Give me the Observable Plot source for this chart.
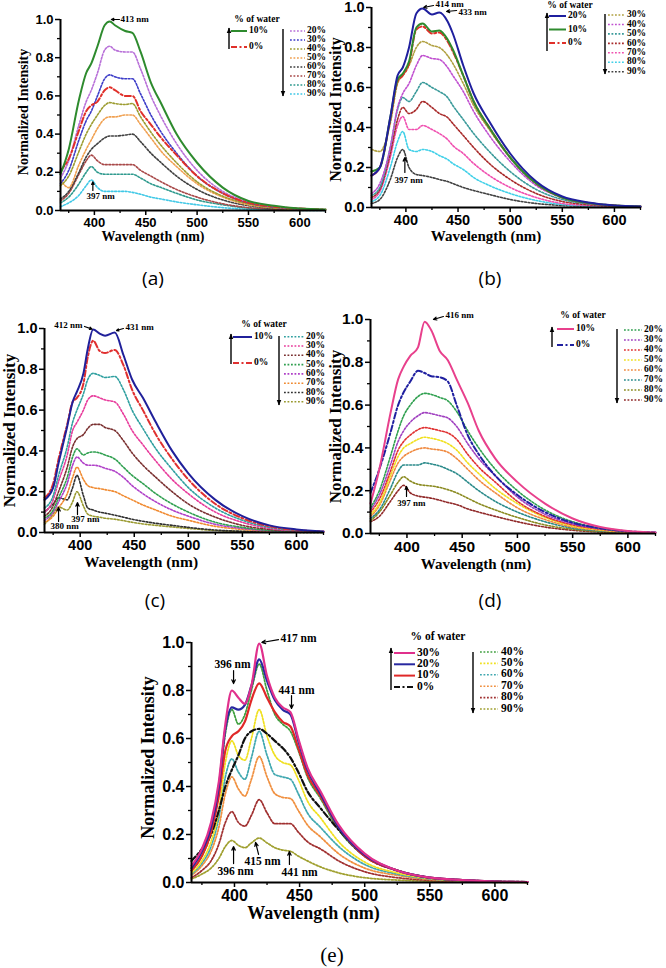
<!DOCTYPE html>
<html><head><meta charset="utf-8">
<script src="https://cdn.jsdelivr.net/npm/d3@7"></script>
<script src="https://cdn.jsdelivr.net/npm/@observablehq/plot@0.6"></script>
<style>
html,body{margin:0;padding:0;background:#fff;}
#root{position:relative;width:666px;height:968px;overflow:hidden;background:#fff;}
#root svg{position:absolute;}
</style></head><body><div id="root"></div>
<script>
// ---------------- DATA ----------------
const xMajor = [400, 450, 500, 550, 600];
const xMinor = [375, 425, 475, 525, 575, 625];
const yMajor = [0, 0.2, 0.4, 0.6, 0.8, 1.0];
const yMinor = [0.1, 0.3, 0.5, 0.7, 0.9];

// Panel (a)
const wlA = [367,375,385,392,397,403,410,415,420,430,437,445,455,465,480,500,525,550,575,600,625];
const namesA = ["10%","0%","20%","30%","40%","50%","60%","70%","80%","90%"];
const valsA = [
 [0.19,0.32,0.58,0.72,0.77,0.86,0.97,0.99,0.97,0.94,0.93,0.83,0.67,0.56,0.40,0.25,0.12,0.05,0.025,0.01,0.005],
 [0.21,0.27,0.42,0.52,0.55,0.57,0.63,0.645,0.63,0.60,0.60,0.52,0.45,0.38,0.29,0.18,0.09,0.04,0.02,0.01,0.005],
 [0.17,0.26,0.45,0.57,0.63,0.72,0.84,0.86,0.84,0.83,0.83,0.74,0.60,0.49,0.35,0.21,0.10,0.045,0.02,0.01,0.004],
 [0.14,0.21,0.37,0.47,0.52,0.60,0.69,0.71,0.70,0.69,0.69,0.61,0.50,0.41,0.30,0.18,0.09,0.04,0.018,0.008,0.003],
 [0.13,0.18,0.31,0.40,0.45,0.50,0.55,0.565,0.56,0.555,0.56,0.49,0.41,0.34,0.25,0.15,0.075,0.035,0.015,0.007,0.003],
 [0.16,0.12,0.24,0.32,0.37,0.43,0.48,0.49,0.49,0.50,0.50,0.45,0.38,0.31,0.23,0.14,0.07,0.03,0.014,0.006,0.003],
 [0.06,0.10,0.20,0.28,0.32,0.35,0.38,0.39,0.39,0.395,0.40,0.36,0.30,0.25,0.18,0.11,0.055,0.025,0.011,0.005,0.002],
 [0.05,0.09,0.19,0.26,0.29,0.26,0.24,0.24,0.24,0.24,0.24,0.21,0.18,0.15,0.11,0.07,0.035,0.015,0.007,0.003,0.001],
 [0.04,0.07,0.14,0.20,0.23,0.20,0.19,0.19,0.19,0.19,0.19,0.17,0.14,0.12,0.09,0.055,0.03,0.012,0.006,0.002,0.001],
 [0.02,0.04,0.08,0.13,0.16,0.12,0.10,0.10,0.10,0.10,0.095,0.085,0.07,0.06,0.045,0.03,0.015,0.006,0.003,0.001,0.0]
];
const colorsA = ["#2e8b2e","#e0302a","#b870d8","#3c3cc8","#9c9c30","#f0a050","#404040","#a84848","#2f9a8e","#40c8e6"];
const kindsA = ["solid","dashdot","dot","dot","dot","dot","dot","dot","dot","dot"];

// Panel (b)
const wlB = [367,375,385,392,397,403,410,416,425,432,440,445,455,465,480,500,525,550,575,600,625];
const namesB = ["20%","10%","0%","30%","40%","50%","60%","70%","80%","90%"];
const valsB = [
 [0.16,0.20,0.45,0.66,0.70,0.80,0.97,0.995,0.965,0.975,0.93,0.87,0.71,0.57,0.43,0.27,0.13,0.055,0.025,0.01,0.005],
 [0.18,0.20,0.45,0.64,0.67,0.73,0.90,0.92,0.88,0.885,0.84,0.79,0.66,0.53,0.40,0.25,0.12,0.05,0.022,0.01,0.005],
 [0.16,0.20,0.44,0.63,0.66,0.72,0.89,0.905,0.87,0.875,0.83,0.78,0.66,0.53,0.40,0.25,0.12,0.05,0.022,0.01,0.005],
 [0.29,0.28,0.42,0.62,0.66,0.71,0.80,0.83,0.81,0.80,0.76,0.72,0.62,0.51,0.39,0.25,0.12,0.05,0.022,0.01,0.005],
 [0.07,0.12,0.30,0.50,0.57,0.62,0.71,0.76,0.745,0.74,0.70,0.66,0.58,0.48,0.36,0.23,0.11,0.05,0.02,0.01,0.004],
 [0.06,0.10,0.30,0.49,0.55,0.53,0.58,0.625,0.60,0.58,0.55,0.51,0.44,0.37,0.28,0.18,0.09,0.04,0.018,0.008,0.004],
 [0.05,0.09,0.27,0.44,0.50,0.47,0.49,0.53,0.50,0.47,0.45,0.42,0.36,0.30,0.22,0.14,0.07,0.03,0.014,0.006,0.003],
 [0.04,0.08,0.25,0.41,0.455,0.39,0.39,0.41,0.39,0.37,0.34,0.31,0.27,0.22,0.16,0.10,0.05,0.02,0.01,0.005,0.002],
 [0.03,0.06,0.20,0.33,0.38,0.29,0.28,0.29,0.28,0.26,0.24,0.22,0.19,0.15,0.11,0.07,0.035,0.015,0.007,0.003,0.001],
 [0.02,0.04,0.14,0.25,0.29,0.20,0.165,0.16,0.15,0.14,0.13,0.12,0.10,0.085,0.065,0.04,0.02,0.01,0.005,0.002,0.001]
];
const colorsB = ["#1f1f9e","#2e8b2e","#e0302a","#b0a040","#c050d0","#3a9a9a","#a82a2a","#f050b0","#40d0e8","#404040"];
const kindsB = ["solid","solid","dashdot","dot","dot","dot","dot","dot","dot","dot"];

// Panel (c)
const wlC = [367,375,380,388,393,397,403,407,412,418,423,432,440,448,458,470,485,500,525,550,575,600,625];
const namesC = ["10%","0%","20%","30%","40%","50%","60%","70%","80%","90%"];
const valsC = [
 [0.16,0.22,0.34,0.52,0.64,0.69,0.78,0.90,0.995,0.975,0.965,0.98,0.87,0.75,0.66,0.54,0.40,0.29,0.16,0.08,0.035,0.015,0.005],
 [0.17,0.24,0.36,0.53,0.64,0.66,0.73,0.86,0.94,0.89,0.88,0.895,0.82,0.70,0.60,0.48,0.36,0.26,0.14,0.07,0.03,0.012,0.005],
 [0.12,0.18,0.28,0.42,0.54,0.60,0.68,0.75,0.78,0.77,0.76,0.765,0.70,0.60,0.51,0.41,0.31,0.22,0.12,0.06,0.025,0.01,0.004],
 [0.10,0.16,0.25,0.38,0.50,0.54,0.60,0.65,0.67,0.66,0.65,0.64,0.58,0.50,0.43,0.35,0.26,0.19,0.10,0.05,0.02,0.008,0.003],
 [0.08,0.13,0.20,0.32,0.42,0.46,0.48,0.51,0.53,0.53,0.515,0.50,0.45,0.39,0.33,0.27,0.20,0.14,0.075,0.035,0.015,0.006,0.002],
 [0.07,0.11,0.17,0.27,0.37,0.41,0.38,0.39,0.395,0.39,0.38,0.36,0.32,0.28,0.24,0.19,0.14,0.10,0.05,0.025,0.01,0.004,0.002],
 [0.06,0.10,0.15,0.24,0.33,0.37,0.34,0.33,0.33,0.325,0.315,0.30,0.27,0.23,0.19,0.15,0.11,0.08,0.04,0.02,0.008,0.003,0.001],
 [0.05,0.08,0.12,0.19,0.27,0.32,0.26,0.23,0.22,0.215,0.21,0.20,0.18,0.16,0.135,0.11,0.08,0.06,0.03,0.015,0.006,0.002,0.001],
 [0.10,0.14,0.17,0.16,0.22,0.28,0.18,0.12,0.11,0.10,0.095,0.085,0.075,0.065,0.055,0.045,0.035,0.025,0.012,0.006,0.003,0.001,0],
 [0.04,0.09,0.125,0.11,0.15,0.20,0.13,0.09,0.08,0.075,0.07,0.065,0.058,0.05,0.042,0.035,0.027,0.02,0.01,0.005,0.002,0.001,0]
];
const colorsC = ["#20209a","#e03030","#30a0a0","#e83c9c","#7a3030","#30a050","#b040c8","#f08a30","#303030","#9a9a30"];
const kindsC = ["solid","dashdot","dot","dot","dot","dot","dot","dot","dot","dot"];

// Panel (d)
const wlD = [367,375,385,392,397,403,410,416,422,430,437,445,455,465,480,500,525,550,575,600,625];
const namesD = ["10%","0%","20%","30%","40%","50%","60%","70%","80%","90%"];
const valsD = [
 [0.14,0.30,0.56,0.72,0.78,0.83,0.87,0.99,0.95,0.85,0.81,0.72,0.61,0.48,0.35,0.24,0.14,0.07,0.03,0.012,0.005],
 [0.19,0.30,0.47,0.60,0.66,0.71,0.76,0.75,0.735,0.73,0.71,0.60,0.46,0.37,0.27,0.18,0.10,0.05,0.025,0.01,0.005],
 [0.12,0.20,0.36,0.48,0.55,0.60,0.64,0.655,0.65,0.635,0.62,0.57,0.48,0.40,0.30,0.20,0.11,0.055,0.025,0.01,0.004],
 [0.11,0.18,0.32,0.43,0.48,0.52,0.55,0.565,0.56,0.55,0.54,0.50,0.42,0.35,0.27,0.17,0.09,0.045,0.022,0.009,0.004],
 [0.10,0.16,0.29,0.39,0.43,0.46,0.485,0.495,0.49,0.48,0.47,0.44,0.37,0.31,0.24,0.15,0.08,0.04,0.02,0.008,0.003],
 [0.09,0.14,0.27,0.36,0.40,0.42,0.44,0.45,0.445,0.435,0.42,0.39,0.33,0.28,0.21,0.14,0.075,0.035,0.017,0.007,0.003],
 [0.08,0.13,0.25,0.33,0.36,0.38,0.395,0.40,0.395,0.39,0.38,0.35,0.30,0.25,0.19,0.12,0.065,0.03,0.015,0.006,0.003],
 [0.07,0.11,0.21,0.29,0.32,0.32,0.32,0.33,0.325,0.315,0.30,0.28,0.24,0.20,0.15,0.10,0.055,0.025,0.012,0.005,0.002],
 [0.06,0.10,0.18,0.24,0.265,0.245,0.23,0.225,0.222,0.215,0.205,0.19,0.165,0.14,0.11,0.075,0.04,0.02,0.009,0.004,0.002],
 [0.055,0.08,0.15,0.20,0.225,0.19,0.175,0.17,0.165,0.155,0.145,0.135,0.115,0.10,0.08,0.055,0.03,0.015,0.007,0.003,0.001]
];
const colorsD = ["#e8408c","#2020a0","#30a050","#a040c0","#e03030","#f0e020","#f08a40","#2a8a8a","#8a8a20","#902828"];
const kindsD = ["solid","dashdot","dot","dot","dot","dot","dot","dot","dot","dot"];

// Panel (e)
const wlE = [367,375,382,388,393,398,403,408,413,419,425,431,437,443,449,456,466,480,500,525,550,575,600,625];
const namesE = ["30%","20%","10%","0%","40%","50%","60%","70%","80%","90%"];
const valsE = [
 [0.07,0.14,0.25,0.42,0.66,0.80,0.77,0.745,0.82,0.995,0.86,0.77,0.73,0.71,0.60,0.48,0.38,0.24,0.12,0.05,0.02,0.01,0.004,0.002],
 [0.06,0.13,0.23,0.40,0.64,0.73,0.72,0.74,0.82,0.93,0.84,0.76,0.72,0.70,0.59,0.47,0.37,0.23,0.115,0.05,0.02,0.01,0.004,0.002],
 [0.05,0.11,0.21,0.36,0.55,0.61,0.63,0.67,0.76,0.83,0.77,0.71,0.67,0.65,0.56,0.45,0.36,0.23,0.11,0.05,0.02,0.01,0.004,0.002],
 [0.09,0.14,0.20,0.30,0.40,0.47,0.53,0.60,0.63,0.64,0.62,0.59,0.56,0.52,0.46,0.38,0.31,0.22,0.11,0.05,0.02,0.01,0.004,0.002],
 [0.05,0.11,0.21,0.38,0.62,0.72,0.66,0.70,0.80,0.91,0.80,0.70,0.66,0.63,0.55,0.44,0.35,0.22,0.11,0.05,0.02,0.01,0.004,0.002],
 [0.04,0.09,0.17,0.30,0.50,0.59,0.53,0.51,0.60,0.72,0.61,0.53,0.50,0.49,0.43,0.34,0.27,0.17,0.085,0.04,0.017,0.008,0.003,0.001],
 [0.035,0.08,0.15,0.27,0.44,0.515,0.46,0.43,0.52,0.63,0.53,0.45,0.44,0.43,0.37,0.29,0.23,0.15,0.075,0.035,0.015,0.007,0.003,0.001],
 [0.03,0.07,0.13,0.23,0.37,0.44,0.39,0.36,0.43,0.525,0.44,0.37,0.355,0.35,0.30,0.24,0.19,0.12,0.06,0.03,0.012,0.006,0.002,0.001],
 [0.02,0.05,0.09,0.16,0.25,0.295,0.25,0.235,0.28,0.345,0.29,0.245,0.245,0.245,0.21,0.17,0.14,0.09,0.045,0.02,0.009,0.004,0.002,0.001],
 [0.015,0.035,0.06,0.10,0.15,0.175,0.155,0.145,0.165,0.185,0.165,0.145,0.135,0.13,0.11,0.09,0.065,0.04,0.02,0.01,0.005,0.002,0.001,0]
];
const colorsE = ["#e0308c","#2828a0","#e02828","#101010","#40a040","#f0e020","#40a8b0","#f09040","#a03030","#a0a030"];
const kindsE = ["solid","solid","solid","dashdot","dot","dot","dot","dot","dot","dot"];

// Peak annotations (wavelength, intensity)
const notesA = [{t:"413 nm",x:425.4,y:1.0,a:"start"},{t:"397 nm",x:406,y:0.073,a:"middle"}];
const arrowsA = [{x1:424.4,y1:1.0,x2:416.5,y2:1.0},{x1:398.5,y1:0.105,x2:398.5,y2:0.15}];
const notesB = [{t:"414 nm",x:428.4,y:1.015,a:"start"},{t:"433 nm",x:450.5,y:0.975,a:"start"},{t:"397 nm",x:402.5,y:0.135,a:"middle"}];
const arrowsB = [{x1:426.5,y1:1.01,x2:417,y2:1.0},{x1:448.6,y1:0.985,x2:439,y2:0.98},{x1:399,y1:0.175,x2:399,y2:0.25}];
const notesC = [{t:"412 nm",x:402.1,y:1.015,a:"end"},{t:"431 nm",x:441.9,y:1.005,a:"start"},{t:"397 nm",x:404.9,y:0.064,a:"middle"},{t:"380 nm",x:385.5,y:0.03,a:"middle"}];
const arrowsC = [{x1:404,y1:1.01,x2:411,y2:0.997},{x1:440,y1:1.0,x2:433.6,y2:0.99},{x1:397.5,y1:0.088,x2:397.5,y2:0.147},{x1:380,y1:0.054,x2:380,y2:0.123}];
const notesD = [{t:"416 nm",x:434.9,y:1.02,a:"start"},{t:"397 nm",x:404,y:0.14,a:"middle"}];
const arrowsD = [{x1:433,y1:1.014,x2:424,y2:1.0},{x1:399.6,y1:0.173,x2:399.6,y2:0.22}];
const notesE = [{t:"417 nm",x:435.3,y:1.017,a:"start"},{t:"396 nm",x:398.5,y:0.908,a:"middle"},{t:"441 nm",x:447.6,y:0.80,a:"middle"},{t:"396 nm",x:400.8,y:0.046,a:"middle"},{t:"415 nm",x:421.5,y:0.0875,a:"middle"},{t:"441 nm",x:450,y:0.042,a:"middle"}];
const arrowsE = [{x1:433.8,y1:1.012,x2:421,y2:1.0},{x1:399.3,y1:0.883,x2:399.3,y2:0.829},{x1:443.8,y1:0.779,x2:443.8,y2:0.725},{x1:399.3,y1:0.079,x2:399.3,y2:0.15},{x1:418.5,y1:0.117,x2:416.2,y2:0.167},{x1:442.2,y1:0.075,x2:442.2,y2:0.129}];

// ---------------- DRAWING ----------------
const root = document.getElementById("root");
const KIND = {solid:{w:2,dash:undefined}, dashdot:{w:2,dash:"6,2.5,2,2.5"}, dot:{w:1.6,dash:"1.8,1.7"}};
const RANK = {dot:0, dashdot:1, solid:2};
const SERIF = "'Liberation Serif','Times New Roman',serif";
const SANS = "'Liberation Sans',Arial,sans-serif";

function panel(P) {
  const fr = P.frame;
  const rows = P.names.flatMap((name,i)=>P.wl.map((w,j)=>({w, v:P.vals[i][j], name})));
  const order = P.names.map((_,i)=>i).sort((a,b)=>(RANK[P.kinds[a]]-RANK[P.kinds[b]]) || (b-a));
  const lw = P.lw || 1;
  const lines = order.map(i => Plot.line(rows.filter(r=>r.name===P.names[i]), {
    x:"w", y:"v", stroke:P.colors[i], strokeWidth:KIND[P.kinds[i]].w*lw,
    strokeDasharray:KIND[P.kinds[i]].dash, curve:"monotone-x"}));
  const ml=70, mt=30, mr=10, mb=80;
  const notes = ["start","middle","end"].map(a => Plot.text(P.notes.filter(n=>n.a===a), {
    x:"x", y:"y", text:"t", textAnchor:a, fontFamily:SERIF, fontWeight:"bold", fontSize:P.nfs}));
  const svg = Plot.plot({
    width: fr.r-fr.l+ml+mr, height: fr.b-fr.t+mt+mb,
    marginLeft:ml, marginRight:mr, marginTop:mt, marginBottom:mb,
    x:{domain:[367,625], label:null},
    y:{domain:[0,1], label:null},
    style:{background:"transparent", overflow:"visible", fontFamily:SANS, fontWeight:"bold", fontSize:P.tfs+"px", color:"#000"},
    marks:[
      ...lines,
      Plot.axisX({ticks:xMajor, tickSize:5, tickPadding:2, tickFormat:d=>String(d), strokeWidth:1.5, label:null, fontSize:P.tfs, fontWeight:"bold", fontFamily:SANS}),
      Plot.axisX({ticks:xMinor, tickSize:3, tickFormat:()=>"", strokeWidth:1.3, label:null}),
      Plot.axisY({ticks:yMajor, tickSize:5, tickPadding:2, tickFormat:d3.format(".1f"), strokeWidth:1.5, label:null, fontSize:P.tfs, fontWeight:"bold", fontFamily:SANS}),
      Plot.axisY({ticks:yMinor, tickSize:3, tickFormat:()=>"", strokeWidth:1.3, label:null}),
      Plot.ruleY([0], {strokeWidth:2}),
      Plot.ruleX([367], {strokeWidth:2}),
      Plot.text(["Wavelength (nm)"], {frameAnchor:"bottom", dx:P.xt[0], dy:P.xt[1], lineAnchor:"middle", textAnchor:"middle", fontFamily:SERIF, fontWeight:"bold", fontSize:P.xfs}),
      Plot.text(["Normalized Intensity"], {frameAnchor:"left", dx:P.yt[0], dy:P.yt[1], rotate:-90, lineAnchor:"middle", textAnchor:"middle", fontFamily:SERIF, fontWeight:"bold", fontSize:P.yfs}),
      ...notes,
      Plot.arrow(P.arrows, {x1:"x1", y1:"y1", x2:"x2", y2:"y2", headLength:5, headAngle:50, strokeWidth:1.2})
    ]
  });
  svg.style.left = (fr.l-ml)+"px";
  svg.style.top = (fr.t-mt)+"px";
  root.appendChild(svg);
}

panel({wl:wlA, names:namesA, vals:valsA, colors:colorsA, kinds:kindsA, frame:{l:60,r:325,t:19,b:210},
  tfs:13, xfs:14, yfs:14, nfs:9, xt:[-40,26], yt:[-37,-3], notes:notesA, arrows:arrowsA});
panel({wl:wlB, names:namesB, vals:valsB, colors:colorsB, kinds:kindsB, frame:{l:371,r:640,t:7,b:207},
  tfs:14.5, xfs:15, yfs:16, nfs:9, xt:[-20,29], yt:[-36,2], notes:notesB, arrows:arrowsB});
panel({wl:wlC, names:namesC, vals:valsC, colors:colorsC, kinds:kindsC, frame:{l:44,r:323,t:328,b:532},
  tfs:14.5, xfs:15.5, yfs:17, nfs:9, xt:[-43,30], yt:[-35,0], notes:notesC, arrows:arrowsC});
panel({wl:wlD, names:namesD, vals:valsD, colors:colorsD, kinds:kindsD, frame:{l:370,r:655,t:319,b:533},
  tfs:15.5, xfs:15, yfs:17, nfs:9, xt:[-37,31], yt:[-35,0], notes:notesD, arrows:arrowsD});
panel({wl:wlE, names:namesE, vals:valsE, colors:colorsE, kinds:kindsE, frame:{l:191,r:527,t:642,b:882},
  tfs:16, xfs:18, yfs:18, nfs:11.5, xt:[-46,31], yt:[-43,-5], notes:notesE, arrows:arrowsE, lw:1.1});

// legends & panel letters
const ov = d3.select(root).append("svg").attr("width",666).attr("height",968).style("left","0px").style("top","0px");
ov.append("defs").append("marker").attr("id","ah").attr("viewBox","0 0 10 10").attr("refX",9).attr("refY",5)
  .attr("markerWidth",6).attr("markerHeight",6).attr("markerUnits","userSpaceOnUse").attr("orient","auto")
  .append("path").attr("d","M0,1L10,5L0,9z").attr("fill","#000");

function legend(L) {
  const g = ov.append("g").attr("font-family",SERIF).attr("font-weight","bold").attr("font-size",L.fs);
  g.append("text").attr("x",L.title[0]).attr("y",L.title[1]).attr("text-anchor","middle")
    .attr("dominant-baseline","middle").attr("font-size",L.tfs).text("% of water");
  for (const grp of L.groups) {
    g.append("line").attr("x1",grp.ax).attr("x2",grp.ax).attr("y1",grp.ay1).attr("y2",grp.ay2)
      .attr("stroke","#000").attr("stroke-width",1.4).attr("marker-end","url(#ah)");
    grp.items.forEach((idx,k)=>{
      const y = grp.y0 + k*grp.dy;
      const K = KIND[L.kinds[idx]];
      const ln = g.append("line").attr("x1",grp.lx1).attr("x2",grp.lx2).attr("y1",y).attr("y2",y)
        .attr("stroke",L.colors[idx]).attr("stroke-width",K.w);
      if (K.dash) ln.attr("stroke-dasharray",K.dash);
      g.append("text").attr("x",grp.tx).attr("y",y).attr("dominant-baseline","middle").text(L.names[idx]);
    });
  }
}
legend({names:namesA, colors:colorsA, kinds:kindsA, fs:9.5, tfs:9.5, title:[257,20], groups:[
  {items:[0,1], ax:229, ay1:49, ay2:28, lx1:231, lx2:247, tx:249, y0:31, dy:16},
  {items:[2,3,4,5,6,7,8,9], ax:283, ay1:29, ay2:96, lx1:290, lx2:305, tx:307, y0:31, dy:9}]});
legend({names:namesB, colors:colorsB, kinds:kindsB, fs:9.5, tfs:9.5, title:[570,6], groups:[
  {items:[0,1,2], ax:547, ay1:51, ay2:13, lx1:549, lx2:566, tx:568, y0:16, dy:13.5},
  {items:[3,4,5,6,7,8,9], ax:605, ay1:14, ay2:74, lx1:608, lx2:625, tx:627, y0:15, dy:9.45}]});
legend({names:namesC, colors:colorsC, kinds:kindsC, fs:9.5, tfs:9.5, title:[264,325], groups:[
  {items:[0,1], ax:231, ay1:364, ay2:334, lx1:233, lx2:252, tx:254, y0:337, dy:26},
  {items:[2,3,4,5,6,7,8,9], ax:279, ay1:336, ay2:405, lx1:284, lx2:305, tx:306, y0:336.7, dy:9.3}]});
legend({names:namesD, colors:colorsD, kinds:kindsD, fs:9.5, tfs:9.5, title:[583,316], groups:[
  {items:[0,1], ax:552, ay1:347, ay2:327, lx1:557, lx2:574, tx:576, y0:329, dy:16},
  {items:[2,3,4,5,6,7,8,9], ax:617, ay1:329, ay2:403, lx1:624, lx2:642, tx:644, y0:330, dy:10}]});
legend({names:namesE, colors:colorsE, kinds:kindsE, fs:11.5, tfs:11.5, title:[438,637], groups:[
  {items:[0,1,2,3], ax:391, ay1:690, ay2:648, lx1:394, lx2:415, tx:417, y0:653, dy:11.3},
  {items:[4,5,6,7,8,9], ax:473, ay1:652, ay2:713, lx1:480, lx2:498, tx:501, y0:652, dy:11.4}]});

const letters = [["(a)",153,280,"'Open Sans',sans-serif",19],["(b)",490,280,"'Open Sans',sans-serif",19],
  ["(c)",155,602,"'Open Sans',sans-serif",19],["(d)",490,602,"'Open Sans',sans-serif",19],["(e)",332,957,SERIF,21]];
for (const [t,x,y,f,s] of letters) {
  ov.append("text").attr("x",x).attr("y",y).attr("text-anchor","middle").attr("dominant-baseline","middle")
    .attr("font-family",f).attr("font-size",s).text(t);
}
</script></body></html>
